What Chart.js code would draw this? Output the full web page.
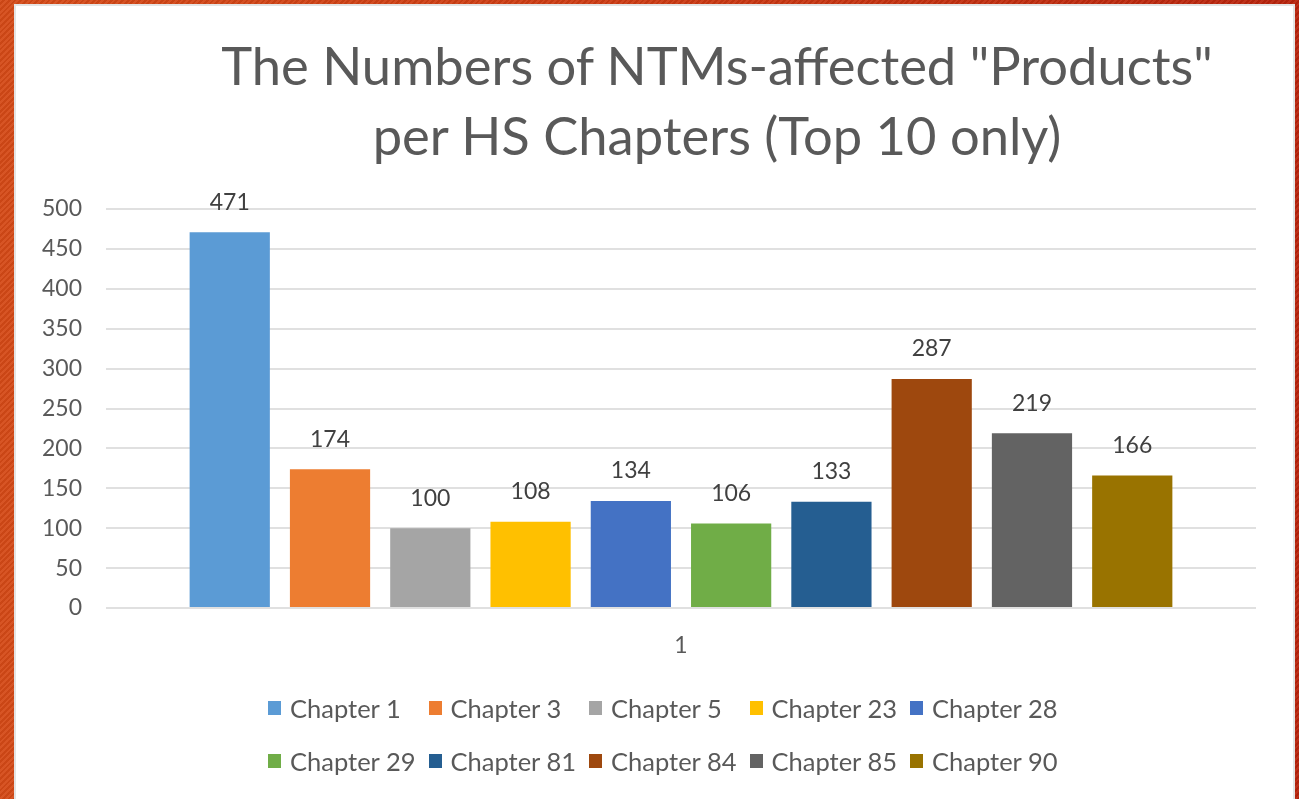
<!DOCTYPE html>
<html>
<head>
<meta charset="utf-8">
<script src="https://cdn.jsdelivr.net/npm/chart.js@4/dist/chart.umd.min.js"></script>
<style>
  html, body { margin: 0; padding: 0; }
  body {
    width: 1299px; height: 799px; overflow: hidden; position: relative;
    background:
      repeating-linear-gradient(135deg, rgba(255,255,255,0.06) 0 2px, rgba(0,0,0,0.05) 2px 4px),
      linear-gradient(90deg, #d54a17 0%, #cc3a12 50%, #b8230c 100%);
    font-family: Lato, sans-serif;
  }
  #panel {
    position: absolute; left: 16px; top: 6px; width: 1277px; height: 800px;
    background: #fff; box-shadow: 0 0 0 2px #e4e4e4;
  }
  #title {
    position: absolute; left: 217px; top: 30px; width: 1000px;
    text-align: center; font-size: 52.5px; line-height: 70px; color: #595959;
  }
  #chartBox { position: absolute; left: 16px; top: 6px; }
  #legend {
    position: absolute; left: 268px; top: 681px;
    display: grid; grid-template-columns: repeat(5, 160.5px); grid-auto-rows: 53px;
  }
  .item { display: flex; align-items: center; font-size: 25.5px; color: #595959; white-space: nowrap; }
  .box { width: 13px; height: 14px; margin-right: 9px; flex: none; }
</style>
</head>
<body>
<div id="panel"></div>
<div id="title">The Numbers of NTMs-affected "Products"<br>per HS Chapters (Top 10 only)</div>
<div id="chartBox"><canvas id="ntmChart" width="1277" height="680"></canvas></div>
<div id="legend"></div>
<script>
// --- data ---
const categories = ['1'];
const chapters = ['Chapter 1', 'Chapter 3', 'Chapter 5', 'Chapter 23', 'Chapter 28',
                  'Chapter 29', 'Chapter 81', 'Chapter 84', 'Chapter 85', 'Chapter 90'];
const productCounts = [471, 174, 100, 108, 134, 106, 133, 287, 219, 166];
const yTicks = [0, 50, 100, 150, 200, 250, 300, 350, 400, 450, 500];
const barColors = ['#5b9bd5', '#ed7d31', '#a5a5a5', '#ffc000', '#4472c4',
                   '#70ad47', '#255e91', '#9e480e', '#636363', '#997300'];

// ตัวเลขบนหัวแท่ง
const valueLabels = {
    id: 'valueLabels',
    afterDatasetsDraw(chart) {
        const ctx = chart.ctx;
        ctx.save();
        ctx.font = '23px Lato';
        ctx.fillStyle = '#404040';
        ctx.textAlign = 'center';
        ctx.textBaseline = 'middle';
        chart.data.datasets.forEach((ds, i) => {
            chart.getDatasetMeta(i).data.forEach((bar, j) => {
                ctx.fillText(ds.data[j], bar.x, bar.y - 30);
            });
        });
        ctx.restore();
    }
};

const ctx = document.getElementById('ntmChart').getContext('2d');
const ntmChart = new Chart(ctx, {
    type: 'bar',
    data: {
        labels: categories,
        datasets: chapters.map((name, i) => ({
            label: name,
            data: [productCounts[i]],
            backgroundColor: barColors[i],
            categoryPercentage: 0.872,
            barPercentage: 0.8
        }))
    },
    options: {
        responsive: false,
        animation: false,
        layout: { padding: { left: 0, right: 37, top: 203, bottom: 18 } },
        plugins: {
            legend: { display: false },
            tooltip: { enabled: false }
        },
        scales: {
            x: {
                grid: { display: false },
                border: { display: false },
                ticks: { color: '#595959', font: { family: 'Lato', size: 23 }, padding: 16 },
                afterFit(scale) { scale.height = 60; }
            },
            y: {
                min: 0,
                max: 500,
                afterBuildTicks(scale) { scale.ticks = yTicks.map(v => ({ value: v })); },
                grid: { color: '#e0e0e0', lineWidth: 2, drawTicks: false },
                border: { display: false },
                ticks: { color: '#595959', font: { family: 'Lato', size: 23 }, padding: 24 },
                afterFit(scale) { scale.width = 90; }
            }
        }
    },
    plugins: [valueLabels]
});

// --- legend (HTML, 5 ช่องต่อแถว) ---
const legendEl = document.getElementById('legend');
ntmChart.data.datasets.forEach(ds => {
    const item = document.createElement('div');
    item.className = 'item';
    item.innerHTML = `<span class="box" style="background:${ds.backgroundColor}"></span>${ds.label}`;
    legendEl.appendChild(item);
});
</script>
</body>
</html>
